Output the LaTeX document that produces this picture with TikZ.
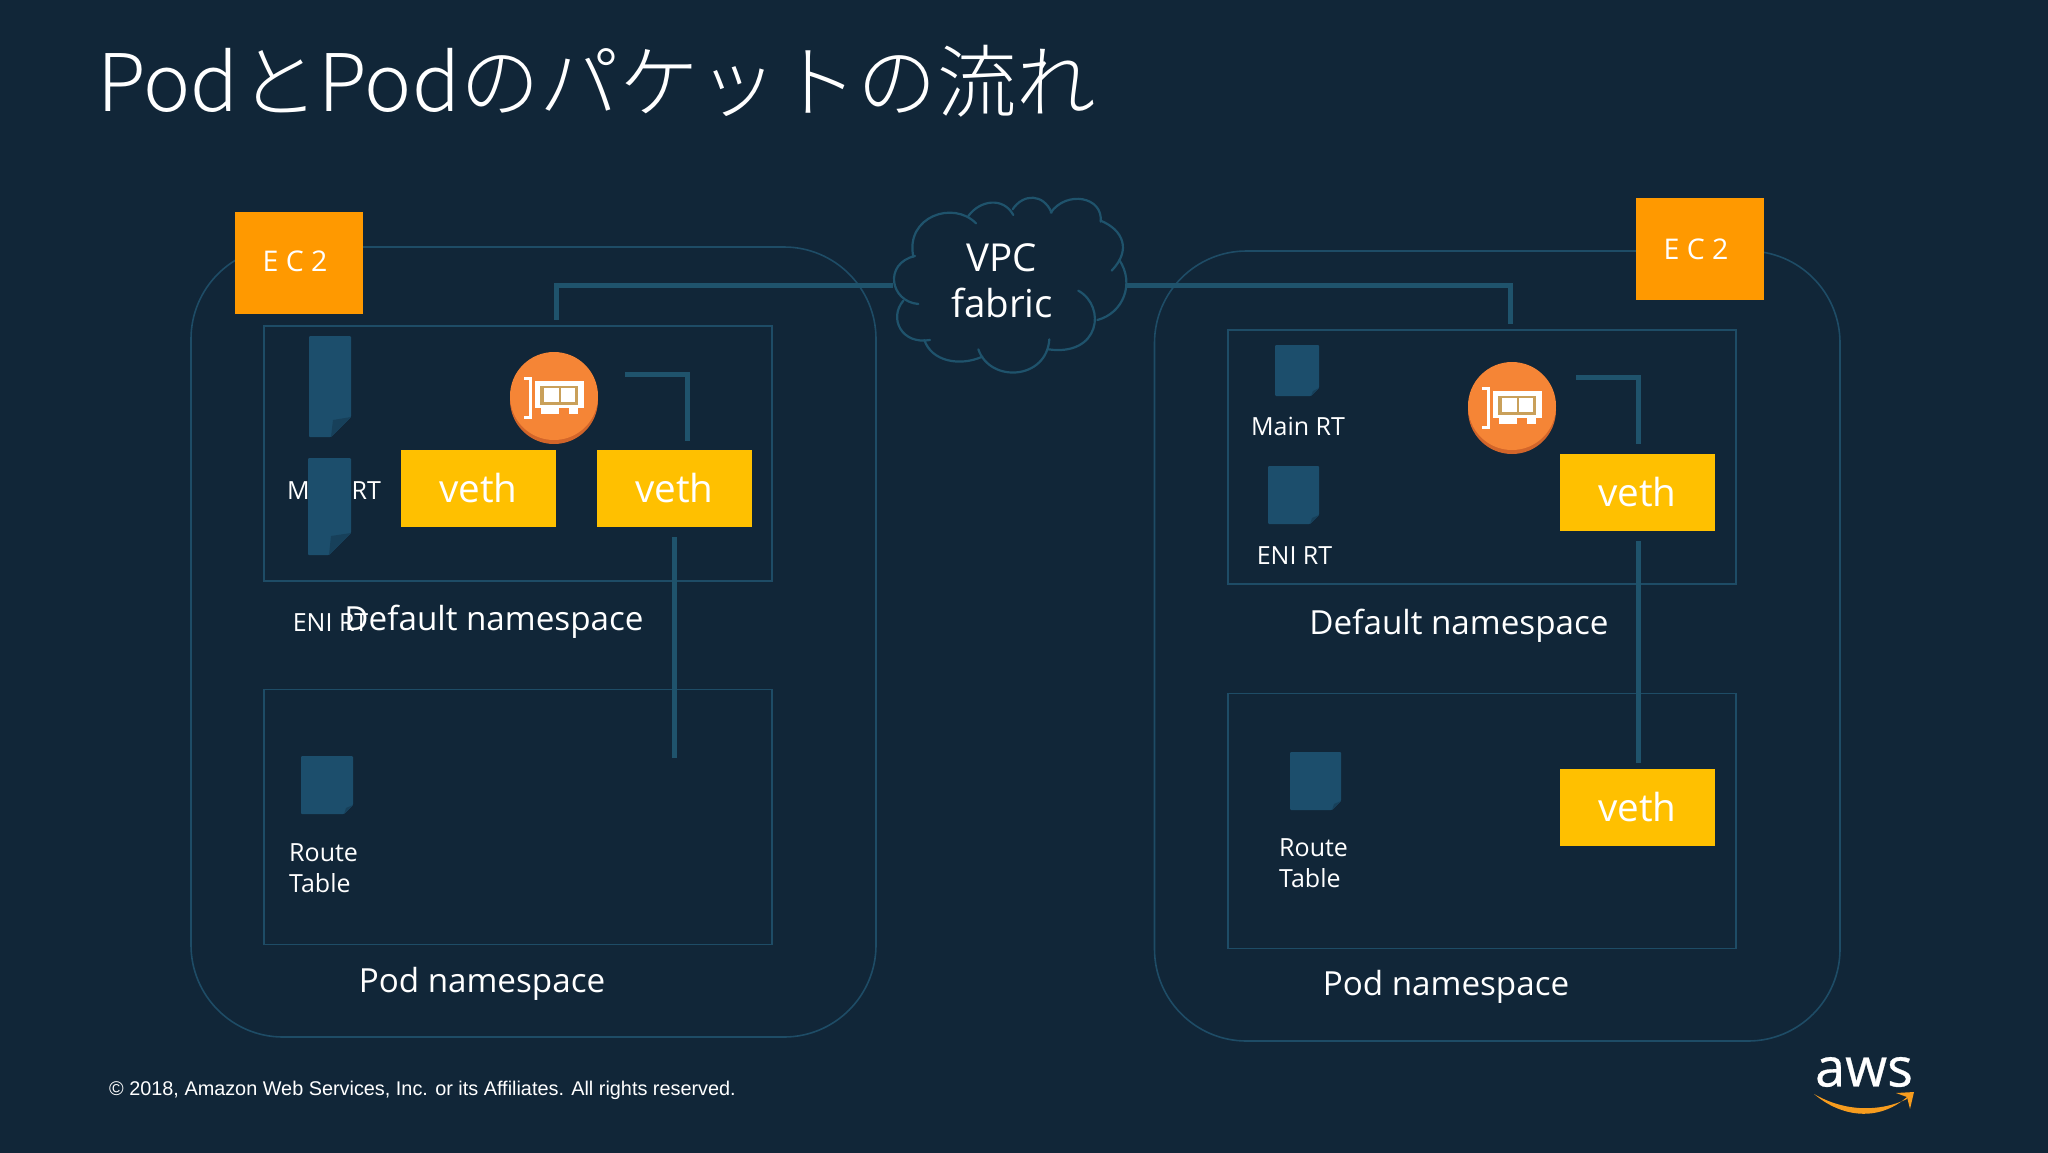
\documentclass[tikz,border=0pt]{standalone}
\usepackage{fontspec}
\setmainfont{Open Sans}
\newfontfamily\arialfont{Liberation Sans}
\newfontfamily\jpfont{Noto Sans CJK JP Light}
\newfontfamily\awsfont[FakeBold=0.5]{Open Sans}
\definecolor{bgc}{HTML}{112638}
\definecolor{linec}{HTML}{1F536C}
\definecolor{boxline}{HTML}{1E4C66}
\definecolor{filec}{HTML}{1C4E6C}
\definecolor{foldc}{HTML}{17405A}
\definecolor{ecc}{HTML}{FF9900}
\definecolor{vethc}{HTML}{FFC000}
\definecolor{nicc}{HTML}{F58536}
\definecolor{nicd}{HTML}{D2652A}
\definecolor{nicg}{HTML}{C9A05A}
\definecolor{smile}{HTML}{F79C1E}
\tikzset{
 hostbox/.style={draw=boxline,line width=1.6pt,rounded corners=92pt,inner sep=0pt},
 nsbox/.style={draw=boxline,line width=1.6pt,inner sep=0pt},
 ecbox/.style={fill=ecc,text=white,inner sep=0pt,minimum width=128pt,minimum height=102pt},
 ectext/.style={text=white,inner sep=0pt,font=\fontsize{28.5}{32}\selectfont},
 vethbox/.style={fill=vethc,text=white,inner sep=0pt,minimum width=155.5pt,minimum height=77pt,font=\fontsize{38.6}{44}\selectfont},
 wire/.style={draw=linec,line width=5pt},
 lab/.style={text=white,inner sep=0pt,font=\fontsize{25}{31}\selectfont},
 nslab/.style={text=white,inner sep=0pt,font=\fontsize{33.2}{38}\selectfont},
 nicdisc/.style={circle,fill=nicc,minimum size=88pt,inner sep=0pt},
 cloudline/.style={draw=linec,line width=2.2pt,line cap=round},
 pics/rtfile/.style args={#1/#2/#3}{code={
   \fill[filec,rounded corners=1pt] (0,0) -- (#1,0) -- (#1,#2-#3) -- (#1-#3,#2) -- (0,#2) -- cycle;
   \fill[foldc] (#1,#2-#3) -- (#1-#3,#2) -- (#1-#3+2,#2-#3+3) -- cycle;
 }},
 pics/nicicon/.style={code={
   \fill[white] (-19.5,-17) rectangle (30,10);
   \fill[white] (-13.5,10) rectangle (4.6,16);
   \fill[white] (15.3,10) rectangle (24,16);
   \fill[nicg] (-14.3,-12) rectangle (24.3,7);
   \fill[white] (-10,-9.7) rectangle (4.6,3.7);
   \fill[white] (7.4,-9.7) rectangle (21,3.7);
   \draw[white,line width=3pt] (-30,-20) -- (-24,-20) -- (-24,19) -- (-30,19);
 }}
}
\begin{document}
\begin{tikzpicture}[x=1pt,y=-1pt]
\useasboundingbox (0,0) rectangle (2048,1152);
\fill[bgc] (-6,-6) rectangle (2054,1158);

% title
\node[anchor=west,text=white,inner sep=0pt,font=\jpfont\fontsize{79.5}{90}\selectfont] (title) at (97,81) {PodとPodのパケットの流れ};

% hosts
\node[hostbox,minimum width=685pt,minimum height=790pt] (hostL) at (533.5,642) {};
\node[hostbox,minimum width=685.5pt,minimum height=790pt] (hostR) at (1497.25,646) {};
\node[nsbox,minimum width=508pt,minimum height=255pt] (defL) at (518,453.5) {};
\node[nsbox,minimum width=508pt,minimum height=255pt] (podL) at (518,817) {};
\node[nsbox,minimum width=508pt,minimum height=254pt] (defR) at (1482,457) {};
\node[nsbox,minimum width=508pt,minimum height=255pt] (podR) at (1482,821) {};

% free ends of the connectors
\coordinate (cloudW) at (893,285);
\coordinate (cloudE) at (1127,285);
\coordinate (nsTopL) at (556,320);
\coordinate (nsTopR) at (1510,324);
\coordinate (nicOutL) at (625,374);
\coordinate (vethInL) at (687,441);
\coordinate (nicOutR) at (1576,377.5);
\coordinate (vethInR) at (1638,444);
\coordinate (vethDownL) at (674,537);
\coordinate (podEndL) at (674,758);
\coordinate (vethDownR) at (1638,541);
\coordinate (podEndR) at (1638,763);

\draw[wire] (cloudW) -| (nsTopL);
\draw[wire] (cloudE) -| (nsTopR);
\draw[wire] (nicOutL) -| (vethInL);
\draw[wire] (nicOutR) -| (vethInR);
\draw[wire] (vethDownL) -- (podEndL);
\draw[wire] (vethDownR) -- (podEndR);

% EC2
\node[ecbox] (ecL) at (299,262.5) {};
\node[ectext] (ecLt) at (295,261.5) {E C 2};
\node[ecbox] (ecR) at (1699.5,249) {};
\node[ectext] (ecRt) at (1696,249.5) {E C 2};

% labels under the icons
\node[lab] (mainL) at (334,490) {Main RT};
\node[lab,anchor=west] (eniL) at (292.6,623) {ENI RT};
\node[lab] (mainR) at (1298,426) {Main RT};
\node[lab] (eniR) at (1294.5,556) {ENI RT};
\node[lab,anchor=west,align=left] (routeL) at (289,868) {Route\\Table};
\node[lab,anchor=west,align=left] (routeR) at (1279,863) {Route\\Table};

% route table icons
\pic at (309,336) {rtfile={42/101/20}};
\pic at (308,458) {rtfile={43/97/22}};
\pic at (1275,345) {rtfile={44/51/8}};
\pic at (1268,466) {rtfile={51/58/9}};
\pic at (301,756) {rtfile={52/58/9}};
\pic at (1290,752) {rtfile={51/58/9}};

% NICs
\node[nicdisc,fill=nicd] (nicLs) at (554,400) {};
\node[nicdisc] (nicL) at (554,396) {};
\pic at (554,398) {nicicon};
\node[nicdisc,fill=nicd] (nicRs) at (1512,410) {};
\node[nicdisc] (nicR) at (1512,406) {};
\pic at (1512,408) {nicicon};

% veth
\node[vethbox] (vA) at (478.5,488.5) {veth};
\node[vethbox] (vB) at (674.5,488.5) {veth};
\node[vethbox] (vC) at (1637.5,492) {veth};
\node[vethbox] (vD) at (1637.5,807) {veth};

% namespaces
\node[nslab] (defLt) at (494,622) {Default namespace};
\node[nslab] (defRt) at (1459,626) {Default namespace};
\node[nslab] (podLt) at (482,984) {Pod namespace};
\node[nslab] (podRt) at (1446,987) {Pod namespace};

% cloud
\begin{scope}[shift={(860,180)},x=0.3333pt,y=-0.3333pt]
\draw[cloudline] (160,230) .. controls (135,110) and (280,60) .. (348,130);
\draw[cloudline] (325,108) .. controls (360,60) and (430,50) .. (460,105);
\draw[cloudline] (458,88) .. controls (490,40) and (550,40) .. (575,98);
\draw[cloudline] (572,98) .. controls (620,30) and (730,50) .. (722,125);
\draw[cloudline] (722,122) .. controls (790,150) and (815,210) .. (755,272);
\draw[cloudline] (778,240) .. controls (825,310) and (790,400) .. (712,420);
\draw[cloudline] (655,332) .. controls (740,380) and (720,530) .. (565,508);
\draw[cloudline] (568,478) .. controls (560,600) and (390,610) .. (355,508);
\draw[cloudline] (367,530) .. controls (300,560) and (215,545) .. (193,480);
\draw[cloudline] (210,480) .. controls (125,495) and (85,415) .. (130,362);
\draw[cloudline] (175,372) .. controls (90,365) and (70,250) .. (165,228);
\end{scope}
\node[text=white,inner sep=0pt,align=center,font=\fontsize{38.5}{46}\selectfont] (vpc) at (1002,281) {VPC\\fabric};

% footer
\node[anchor=west,text=white,inner sep=0pt,font=\arialfont\fontsize{19.85}{24}\selectfont] (copy) at (109,1090) {© 2018, Amazon Web Services, Inc. or its Affiliates. All rights reserved.};
\node[text=white,inner sep=0pt,font=\awsfont\fontsize{54}{60}\selectfont] (aws) at (1864,1072) {aws};
\coordinate (smileA) at (1814,1094);
\coordinate (smileB) at (1908,1096);
\coordinate (tipA) at (1896,1093);
\coordinate (tipB) at (1914,1092);
\coordinate (tipC) at (1910,1109);
\fill[smile] (smileA) .. controls (1845,1120) and (1882,1120) .. (smileB) -- (1907,1099) .. controls (1880,1112) and (1845,1112) .. cycle;
\fill[smile] (tipA) -- (tipB) -- (tipC) -- (1907,1097) -- cycle;
\end{tikzpicture}
\end{document}
